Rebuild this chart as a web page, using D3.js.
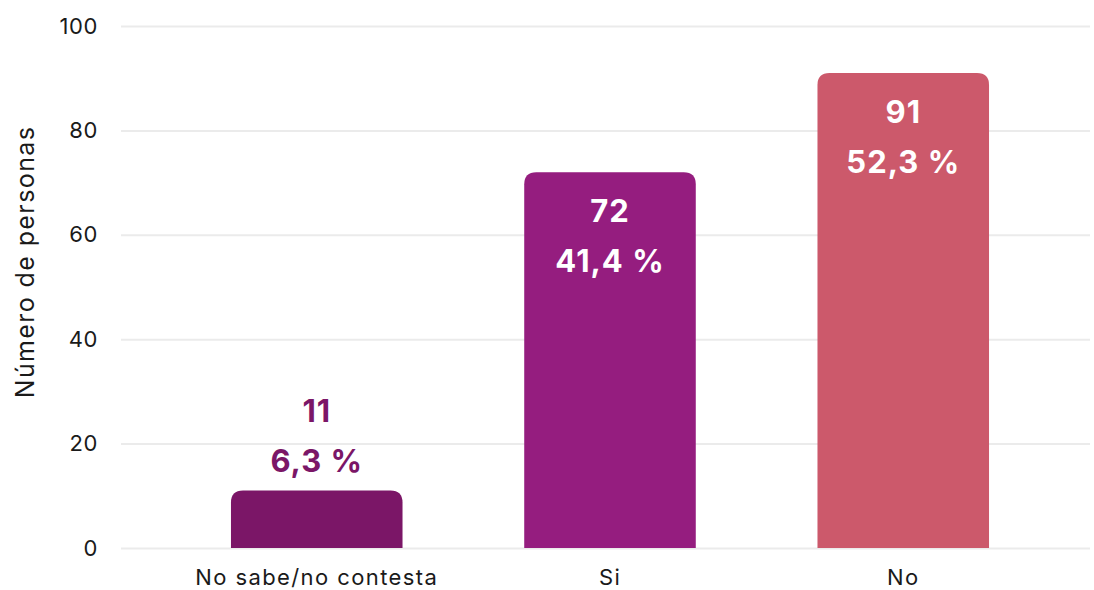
<!DOCTYPE html>
<html>
<head>
<meta charset="utf-8">
<script src="https://cdn.jsdelivr.net/npm/d3@7"></script>
<style>
  body { margin: 0; background: #fff; }
  svg { display: block; font-family: Inter, "Noto Sans", sans-serif; }
</style>
</head>
<body>
<div id="chart"></div>
<script>
const categories = ["No sabe/no contesta", "Si", "No"];
const counts = [11, 72, 91];
const percents = ["6,3 %", "41,4 %", "52,3 %"];
const colors = ["#7b1667", "#951d7f", "#cc596b"];
const yTicks = [0, 20, 40, 60, 80, 100];

const width = 1094, height = 590;
const margin = { top: 26, right: 4, bottom: 42, left: 121 };

const data = categories.map((c, i) => ({ key: c, value: counts[i], pct: percents[i], color: colors[i] }));

const svg = d3.select("#chart").append("svg")
  .attr("width", width)
  .attr("height", height);

const y = d3.scaleLinear().domain([0, 100]).range([height - margin.bottom, margin.top]);
const x = d3.scaleBand()
  .domain(categories)
  .range([margin.left, 1099])
  .paddingInner(0.415)
  .paddingOuter(0.375);

// grid lines + y labels
const yAxis = d3.axisLeft(y).tickValues(yTicks).tickSize(0).tickPadding(23);
const yG = svg.append("g").attr("transform", `translate(${margin.left},0)`).call(yAxis);
yG.select(".domain").remove();
yG.selectAll(".tick text")
  .attr("font-size", 22)
  .attr("letter-spacing", 0.6)
  .attr("font-family", "Inter, 'Noto Sans', sans-serif")
  .attr("fill", "#1a1a1a");
yG.selectAll(".tick").append("line")
  .attr("x1", 0)
  .attr("x2", width - margin.right - margin.left)
  .attr("stroke", "#ebebeb")
  .attr("stroke-width", 2);

svg.append("text")
  .attr("transform", "translate(34, 262) rotate(-90)")
  .attr("text-anchor", "middle")
  .attr("font-size", 25)
  .attr("letter-spacing", 1.4)
  .attr("fill", "#1a1a1a")
  .text("Número de personas");

// x labels
const xAxis = d3.axisBottom(x).tickSize(0).tickPadding(21);
const xG = svg.append("g").attr("transform", `translate(0,${y(0)})`).call(xAxis);
xG.select(".domain").remove();
xG.selectAll(".tick text")
  .attr("font-size", 22)
  .attr("letter-spacing", 1.4)
  .attr("font-family", "Inter, 'Noto Sans', sans-serif")
  .attr("fill", "#1a1a1a");

// bars with rounded top corners
const r = 12;
function barPath(d) {
  const x0 = x(d.key), x1 = x0 + x.bandwidth();
  const top = y(d.value), bot = y(0);
  return `M${x0},${bot} L${x0},${top + r} Q${x0},${top} ${x0 + r},${top} ` +
    `L${x1 - r},${top} Q${x1},${top} ${x1},${top + r} L${x1},${bot} Z`;
}

svg.append("g").selectAll("path")
  .data(data)
  .join("path")
  .attr("d", barPath)
  .attr("fill", d => d.color);

// labels
const labels = svg.append("g").selectAll("g")
  .data(data)
  .join("g")
  .attr("transform", d => `translate(${x(d.key) + x.bandwidth() / 2},${y(d.value)})`);

labels.each(function (d) {
  const g = d3.select(this);
  const inside = y(0) - y(d.value) > 120;
  const fill = inside ? "#ffffff" : d.color;
  const y1 = inside ? 39 : -79;
  const y2 = inside ? 89 : -29;
  [[y1, d.value], [y2, d.pct]].forEach(([yy, t]) => {
    g.append("text")
      .attr("y", yy)
      .attr("dy", "0.35em")
      .attr("text-anchor", "middle")
      .attr("font-size", 31)
      .attr("letter-spacing", 1)
      .attr("font-weight", 700)
      .attr("fill", fill)
      .text(t);
  });
});
</script>
</body>
</html>
